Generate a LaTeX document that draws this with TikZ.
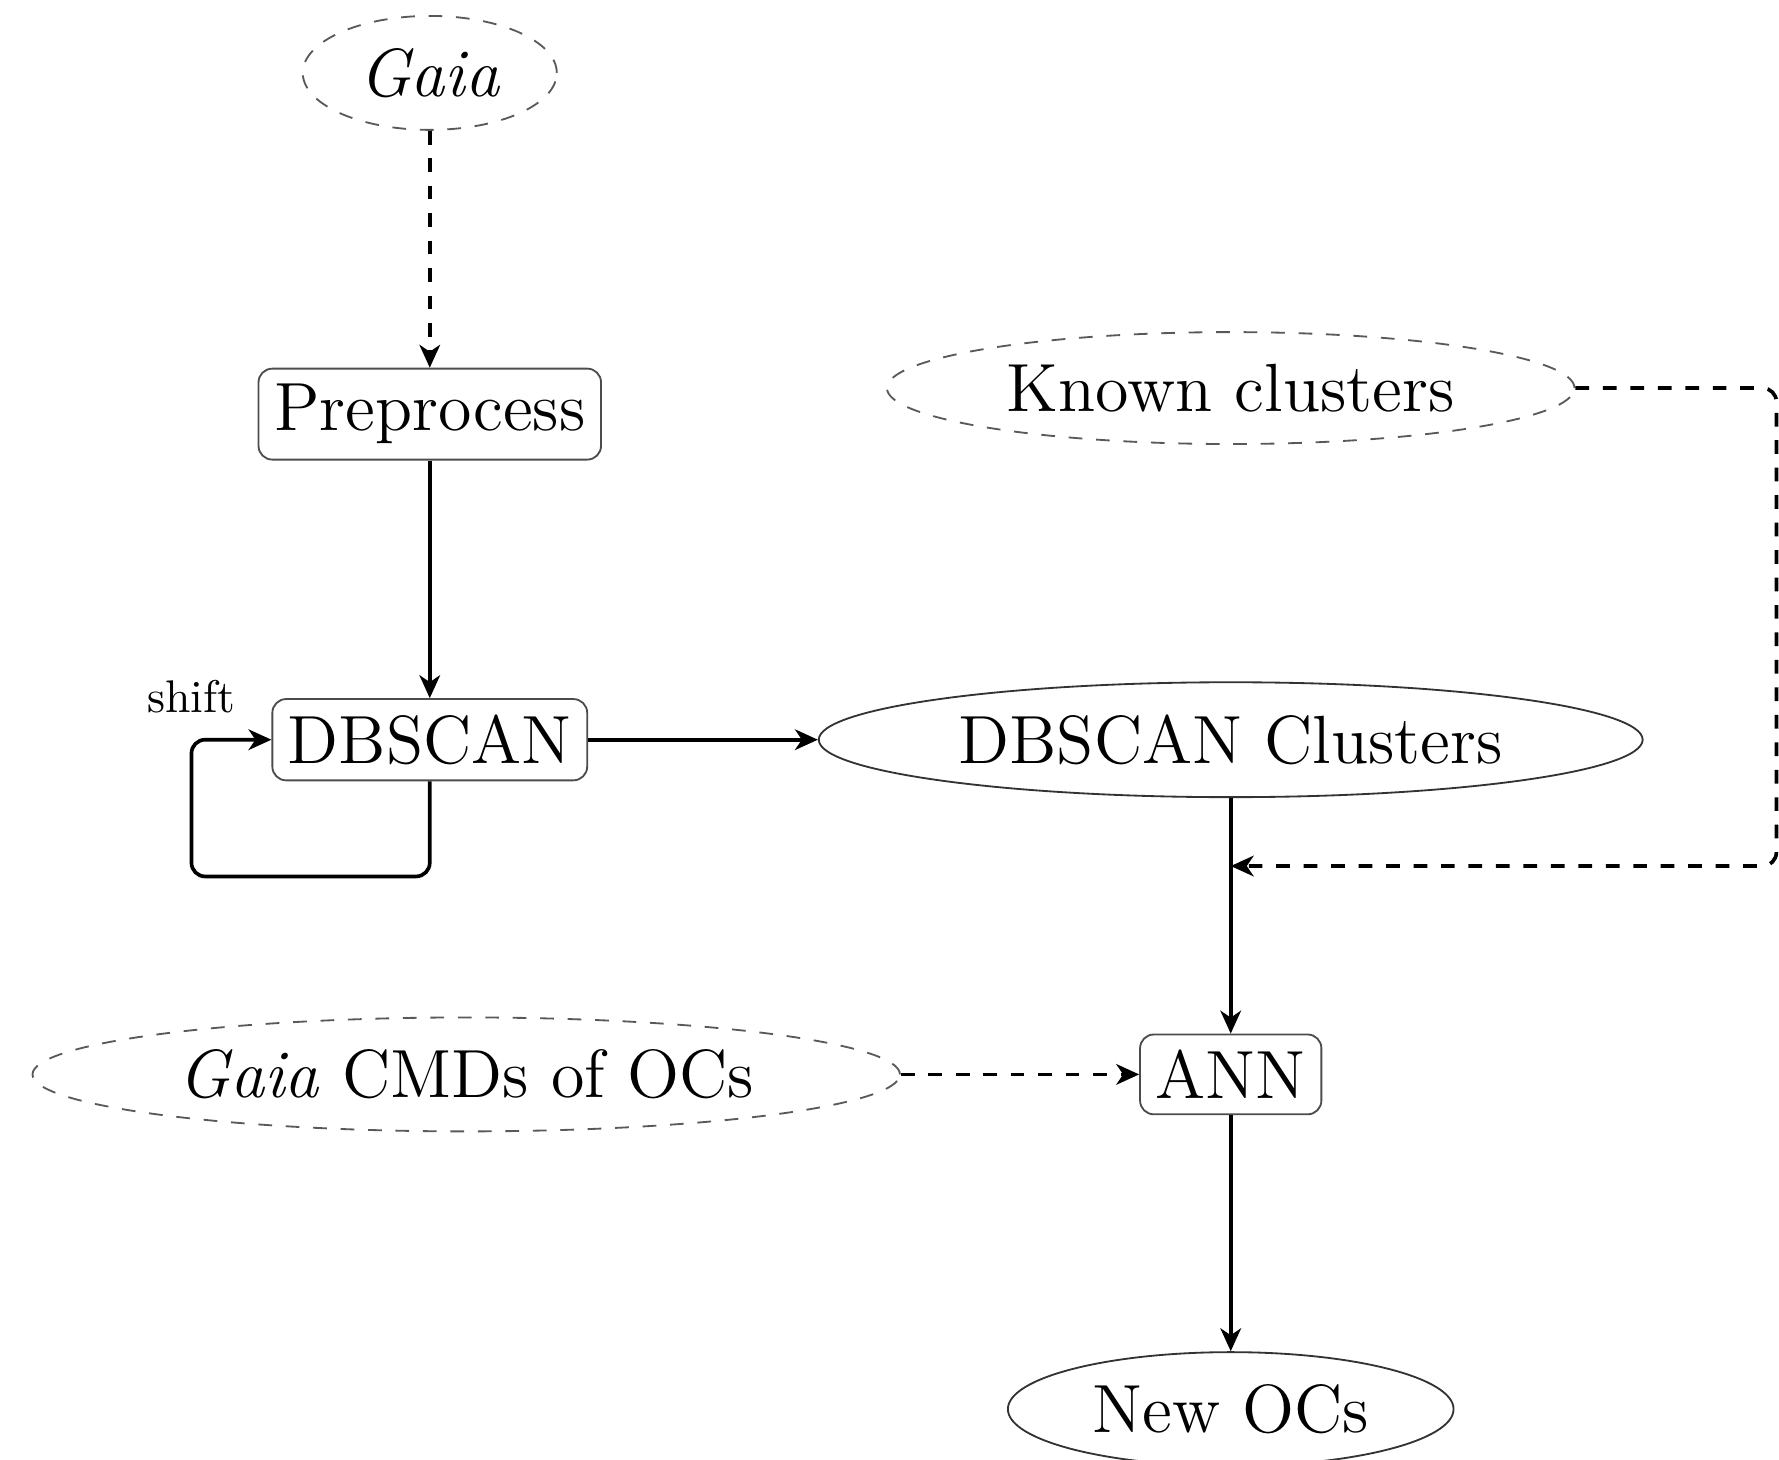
\documentclass[tikz,border=0pt]{standalone}
\usepackage{amsmath}
\usetikzlibrary{shapes.geometric, arrows.meta}
\tikzstyle{stepBox} = [draw=black!70, rounded corners=3pt, inner sep=3.4pt, font=\fontsize{14.9}{18}\selectfont]
\tikzstyle{dataSet} = [ellipse, draw=black!65, dashed, inner xsep=4.2pt, inner ysep=3.4pt, font=\fontsize{14.9}{18}\selectfont]
\tikzstyle{resultSet} = [ellipse, draw=black!80, inner xsep=4.2pt, inner ysep=3.4pt, font=\fontsize{14.9}{18}\selectfont]
\tikzstyle{flowLine} = [thick, rounded corners=3pt, -{Stealth[length=5pt, width=4.5pt, inset=1.5pt]}]
\tikzstyle{inputLine} = [flowLine, dashed]

\begin{document}
\begin{tikzpicture}
  \useasboundingbox (0,0) rectangle (13.66,11.21);
  % left column
  \node [dataSet] (gaia) at (3.30,10.65) {\textit{Gaia}};
  \node [stepBox] (preprocess) at (3.30,8.03) {Preprocess};
  \node [stepBox] (dbscan) at (3.30,5.53) {DBSCAN};
  \node [dataSet] (cmds) at (3.58,2.96) {\textit{Gaia} CMDs of OCs};
  % right column
  \node [dataSet] (known) at (9.45,8.23) {Known clusters};
  \node [resultSet] (dbClusters) at (9.45,5.53) {DBSCAN Clusters};
  \node [stepBox] (ann) at (9.45,2.96) {ANN};
  \node [resultSet] (newOCs) at (9.45,0.39) {New OCs};
  \coordinate (loopCorner) at (1.47,4.48);
  \coordinate (rightTurn) at (13.64,4.56);
  \coordinate (merge) at (9.45,4.56);

  \draw [inputLine] (gaia) -- (preprocess);
  \draw [flowLine] (preprocess) -- (dbscan);
  \draw [flowLine] (dbscan.south) |- (loopCorner) |- node [pos=0.5, above=2pt, font=\normalsize] (shiftLabel) {shift} (dbscan.west);
  \draw [flowLine] (dbscan) -- (dbClusters);
  \draw [flowLine] (dbClusters) -- (ann);
  \draw [inputLine] (known.east) -| (rightTurn) -- (merge);
  \draw [inputLine] (cmds) -- (ann);
  \draw [flowLine] (ann) -- (newOCs);
\end{tikzpicture}
\end{document}
